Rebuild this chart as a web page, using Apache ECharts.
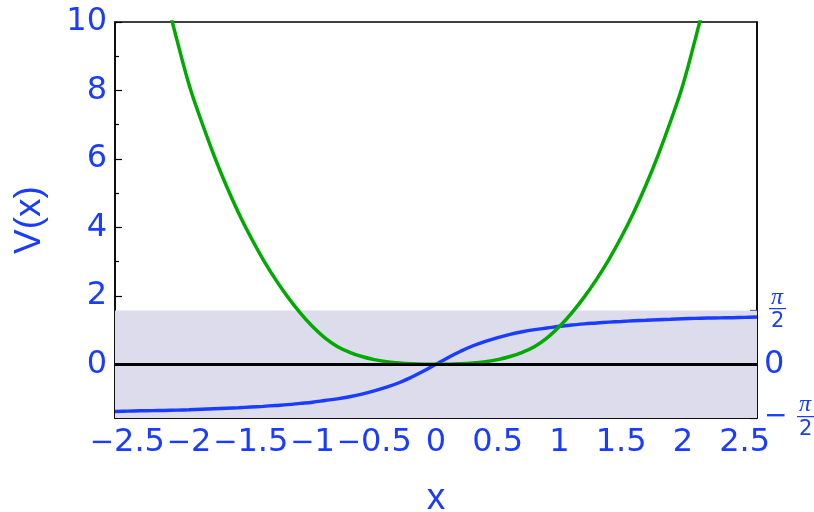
<!DOCTYPE html>
<html><head><meta charset="utf-8">
<script src="https://cdn.jsdelivr.net/npm/echarts@6/dist/echarts.min.js"></script>
<style>html,body{margin:0;padding:0;background:#fff}#c{width:814px;height:512px}</style>
</head><body><div id="c"></div>
<script>
const HALF_PI = Math.PI / 2;
const xTicks = [-2.5, -2, -1.5, -1, -0.5, 0, 0.5, 1, 1.5, 2, 2.5];
const xMinorTicks = [-2.25, -1.75, -1.25, -0.75, -0.25, 0.25, 0.75, 1.25, 1.75, 2.25];
const xZeroTick = [0];
const yTicks = [0, 2, 4, 6, 8, 10];
const yMinorTicks = [-1, 1, 3, 5, 7, 9];
const rightTicks = [-HALF_PI, 0, HALF_PI];
const rightMinorTicks = [-Math.PI / 4, Math.PI / 4];
const band = [-HALF_PI, HALF_PI];

const blueX = [-2.6,-2.5,-2.4,-2.3,-2.2,-2.1,-2.0,-1.9,-1.8,-1.7,-1.6,-1.5,-1.4,-1.3,-1.2,-1.1,-1.0,-0.9,-0.8,-0.7,-0.6,-0.5,-0.4,-0.3,-0.2,-0.1,0,
  0.1,0.2,0.3,0.4,0.5,0.6,0.7,0.8,0.9,1.0,1.1,1.2,1.3,1.4,1.5,1.6,1.7,1.8,1.9,2.0,2.1,2.2,2.3,2.4,2.5,2.6];
const blueY = [-1.38,-1.37,-1.36,-1.355,-1.35,-1.34,-1.33,-1.315,-1.30,-1.285,-1.27,-1.25,-1.23,-1.205,-1.18,-1.145,-1.11,-1.06,-1.01,-0.95,-0.875,-0.78,-0.67,-0.54,-0.38,-0.20,0,
  0.20,0.38,0.54,0.67,0.78,0.875,0.95,1.01,1.06,1.11,1.145,1.18,1.205,1.23,1.25,1.27,1.285,1.30,1.315,1.33,1.34,1.35,1.355,1.36,1.37,1.38];

const greenX = [-2.2,-2.1,-2.0,-1.9,-1.8,-1.7,-1.6,-1.5,-1.4,-1.3,-1.2,-1.1,-1.0,-0.9,-0.8,-0.7,-0.6,-0.5,-0.4,-0.3,-0.2,-0.1,0,
  0.1,0.2,0.3,0.4,0.5,0.6,0.7,0.8,0.9,1.0,1.1,1.2,1.3,1.4,1.5,1.6,1.7,1.8,1.9,2.0,2.1,2.2];
const greenY = [10.9,9.5,8.17,7.10,6.12,5.23,4.43,3.71,3.06,2.48,1.96,1.50,1.10,0.77,0.52,0.35,0.225,0.135,0.075,0.035,0.012,0.002,0,
  0.002,0.012,0.035,0.075,0.135,0.225,0.35,0.52,0.77,1.10,1.50,1.96,2.48,3.06,3.71,4.43,5.23,6.12,7.10,8.17,9.5,10.9];

const BLUE = '#1a3cff';
const GREEN = '#00aa00';
const FONT = 'DejaVu Sans';
const NAME_FONT = 'Liberation Sans';
const zip = (a, b) => a.map((v, i) => [v, b[i]]);

const chart = echarts.init(document.getElementById('c'), null, {renderer: 'canvas'});
const base = {type: 'value', min: -2.6, max: 2.6, splitLine: {show: false}};
const ybase = {type: 'value', min: -HALF_PI, max: 10, splitLine: {show: false}};
const tickStyle = {color: '#000', width: 1.2};

chart.setOption({
  animation: false,
  backgroundColor: '#fff',
  grid: {left: 115, right: 57, top: 22, bottom: 94, containLabel: false, outerBoundsMode: 'none',
    show: true, borderColor: '#000', borderWidth: 1.5, backgroundColor: 'transparent'},
  xAxis: [
    Object.assign({}, base, {
      position: 'bottom',
      axisLine: {show: true, onZero: false, lineStyle: {color: '#000', width: 1.5}},
      axisTick: {show: true, inside: true, length: 5, customValues: xTicks, lineStyle: tickStyle},
      axisLabel: {customValues: xTicks, color: BLUE, fontSize: 32, fontFamily: FONT, margin: 9,
        showMinLabel: true, showMaxLabel: true, hideOverlap: false,
        formatter: v => (v < 0 ? '{m|\u2212}{n|' + Math.abs(v) + '}' : '{n|' + v + '}'),
        rich: {
          m: {fontSize: 29, fontFamily: FONT, color: BLUE},
          n: {fontSize: 32, fontFamily: FONT, color: BLUE}
        }},
      name: 'x', nameLocation: 'middle', nameGap: 62,
      nameTextStyle: {color: BLUE, fontSize: 37, fontFamily: NAME_FONT}
    }),
    Object.assign({}, base, {
      position: 'bottom', axisLine: {show: false, onZero: false},
      axisTick: {show: true, inside: true, length: 2.5, customValues: xMinorTicks, lineStyle: tickStyle},
      axisLabel: {show: false}
    }),
    Object.assign({}, base, {
      position: 'bottom', axisLine: {show: false, onZero: false},
      axisTick: {show: true, inside: true, length: 11, customValues: xZeroTick, lineStyle: tickStyle},
      axisLabel: {show: false}
    })
  ],
  yAxis: [
    Object.assign({}, ybase, {
      position: 'left',
      axisLine: {show: true, onZero: false, lineStyle: {color: '#000', width: 1.5}},
      axisTick: {show: true, inside: true, length: 7, customValues: yTicks, lineStyle: tickStyle},
      axisLabel: {customValues: yTicks, color: BLUE, fontSize: 32, fontFamily: FONT, margin: 8,
        showMinLabel: true, showMaxLabel: true, hideOverlap: false},
      name: 'V(x)', nameLocation: 'middle', nameGap: 67,
      nameTextStyle: {color: BLUE, fontSize: 37, fontFamily: NAME_FONT}
    }),
    Object.assign({}, ybase, {
      position: 'left', axisLine: {show: false, onZero: false},
      axisTick: {show: true, inside: true, length: 4, customValues: yMinorTicks, lineStyle: tickStyle},
      axisLabel: {show: false}
    }),
    Object.assign({}, ybase, {
      position: 'right',
      axisLine: {show: true, onZero: false, lineStyle: {color: '#000', width: 1.5}},
      axisTick: {show: true, inside: true, length: 7, customValues: rightTicks, lineStyle: tickStyle},
      axisLabel: {
        customValues: rightTicks, margin: 7, color: BLUE, showMinLabel: true, showMaxLabel: true, hideOverlap: false,
        formatter: v => {
          if (Math.abs(v) < 1e-9) return '{z|0}';
          if (v > 0) return '{s1| }{p|\u03c0}\n{s0| }{b|\u2015}\n{s1| }{d|2}';
          return '{s3| }{p|\u03c0}\n{m|\u2212}{g| }{b|\u2015}\n{s3| }{d|2}';
        },
        rich: {
          z: {fontSize: 32, fontFamily: FONT, color: BLUE},
          p: {fontSize: 24, fontFamily: 'Liberation Serif', fontStyle: 'italic', color: BLUE, lineHeight: 17},
          b: {fontSize: 17, fontFamily: FONT, color: BLUE, lineHeight: 6},
          d: {fontSize: 21, fontFamily: FONT, color: BLUE, lineHeight: 20},
          m: {fontSize: 28, fontFamily: FONT, color: BLUE, lineHeight: 6, width: 24},
          g: {fontSize: 10, lineHeight: 6, width: 9},
          s0: {fontSize: 10, lineHeight: 6, width: 5},
          s1: {fontSize: 10, width: 7},
          s3: {fontSize: 10, width: 35}
        }
      }
    }),
    Object.assign({}, ybase, {
      position: 'right', axisLine: {show: false, onZero: false},
      axisTick: {show: true, inside: true, length: 4, customValues: rightMinorTicks, lineStyle: tickStyle},
      axisLabel: {show: false}
    })
  ],
  series: [
    {
      type: 'line', data: [], z: 1, silent: true,
      markArea: {silent: true, itemStyle: {color: '#dcdcec'}, data: [[{yAxis: band[0]}, {yAxis: band[1]}]]},
      markLine: {silent: true, symbol: 'none', label: {show: false}, lineStyle: {color: '#000', width: 3, type: 'solid'}, data: [{yAxis: 0}]}
    },
    {
      type: 'line', data: zip(blueX, blueY), z: 3, showSymbol: false, smooth: 0.4,
      lineStyle: {color: BLUE, width: 3.4}, silent: true
    },
    {
      type: 'line', data: zip(greenX, greenY), z: 4, showSymbol: false, smooth: 0.4,
      lineStyle: {color: GREEN, width: 3.5}, silent: true
    }
  ]
});
</script>
</body></html>
